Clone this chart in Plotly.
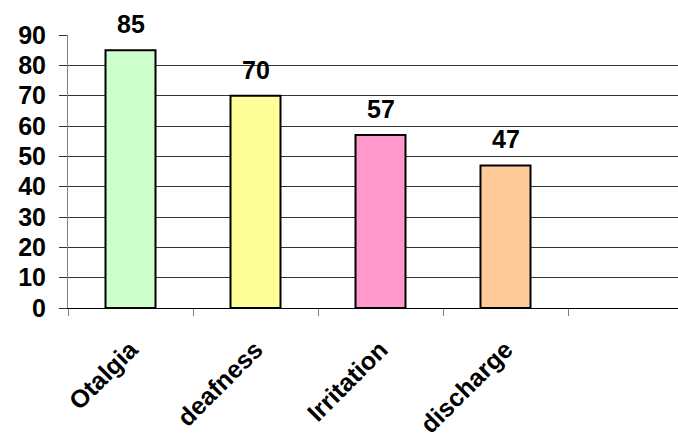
import plotly.graph_objects as go

categories = ["Otalgia", "deafness", "Irritation", "discharge"]
values = [85, 70, 57, 47]
colors = ["#CCFFCC", "#FFFF99", "#FF99CC", "#FFCC99"]
y_ticks = [0, 10, 20, 30, 40, 50, 60, 70, 80, 90]

font_family = "Liberation Sans, Arial, sans-serif"
fs = 25

fig = go.Figure()
fig.add_trace(go.Bar(
    x=categories, y=values,
    marker=dict(color=colors, line=dict(color="#000000", width=2)),
    width=0.4,
    hoverinfo="skip",
))

for c, v in zip(categories, values):
    fig.add_annotation(x=c, y=v, text=str(v), showarrow=False, yshift=26,
                       yanchor="middle",
                       font=dict(family=font_family, size=fs, color="#000000", weight="bold"))

fig.update_layout(
    width=678, height=435,
    margin=dict(l=68, r=0, t=35, b=127, autoexpand=False),
    paper_bgcolor="white", plot_bgcolor="white",
    showlegend=False,
    font=dict(family=font_family, size=fs, color="#000000", weight="bold"),
    xaxis=dict(
        type="category",
        range=[-0.5, 4.38],
        automargin=False,
        tickson="boundaries",
        ticks="outside", ticklen=7, tickcolor="#808080", tickwidth=1,
        showline=True, linecolor="#000000", linewidth=1,
        showgrid=False,
        tickangle=-45,
        ticklabelstandoff=16,
        tickfont=dict(family=font_family, size=fs, color="#000000", weight="bold"),
    ),
    yaxis=dict(
        range=[0, 90],
        automargin=False,
        tickvals=y_ticks,
        ticks="outside", ticklen=8, tickcolor="#333333", tickwidth=1,
        showline=True, linecolor="#808080", linewidth=1,
        showgrid=True, gridcolor="#333333", gridwidth=1,
        zeroline=False,
        ticklabelstandoff=8,
        tickfont=dict(family=font_family, size=fs, color="#000000", weight="bold"),
    ),
)

fig.write_html("out.html")
